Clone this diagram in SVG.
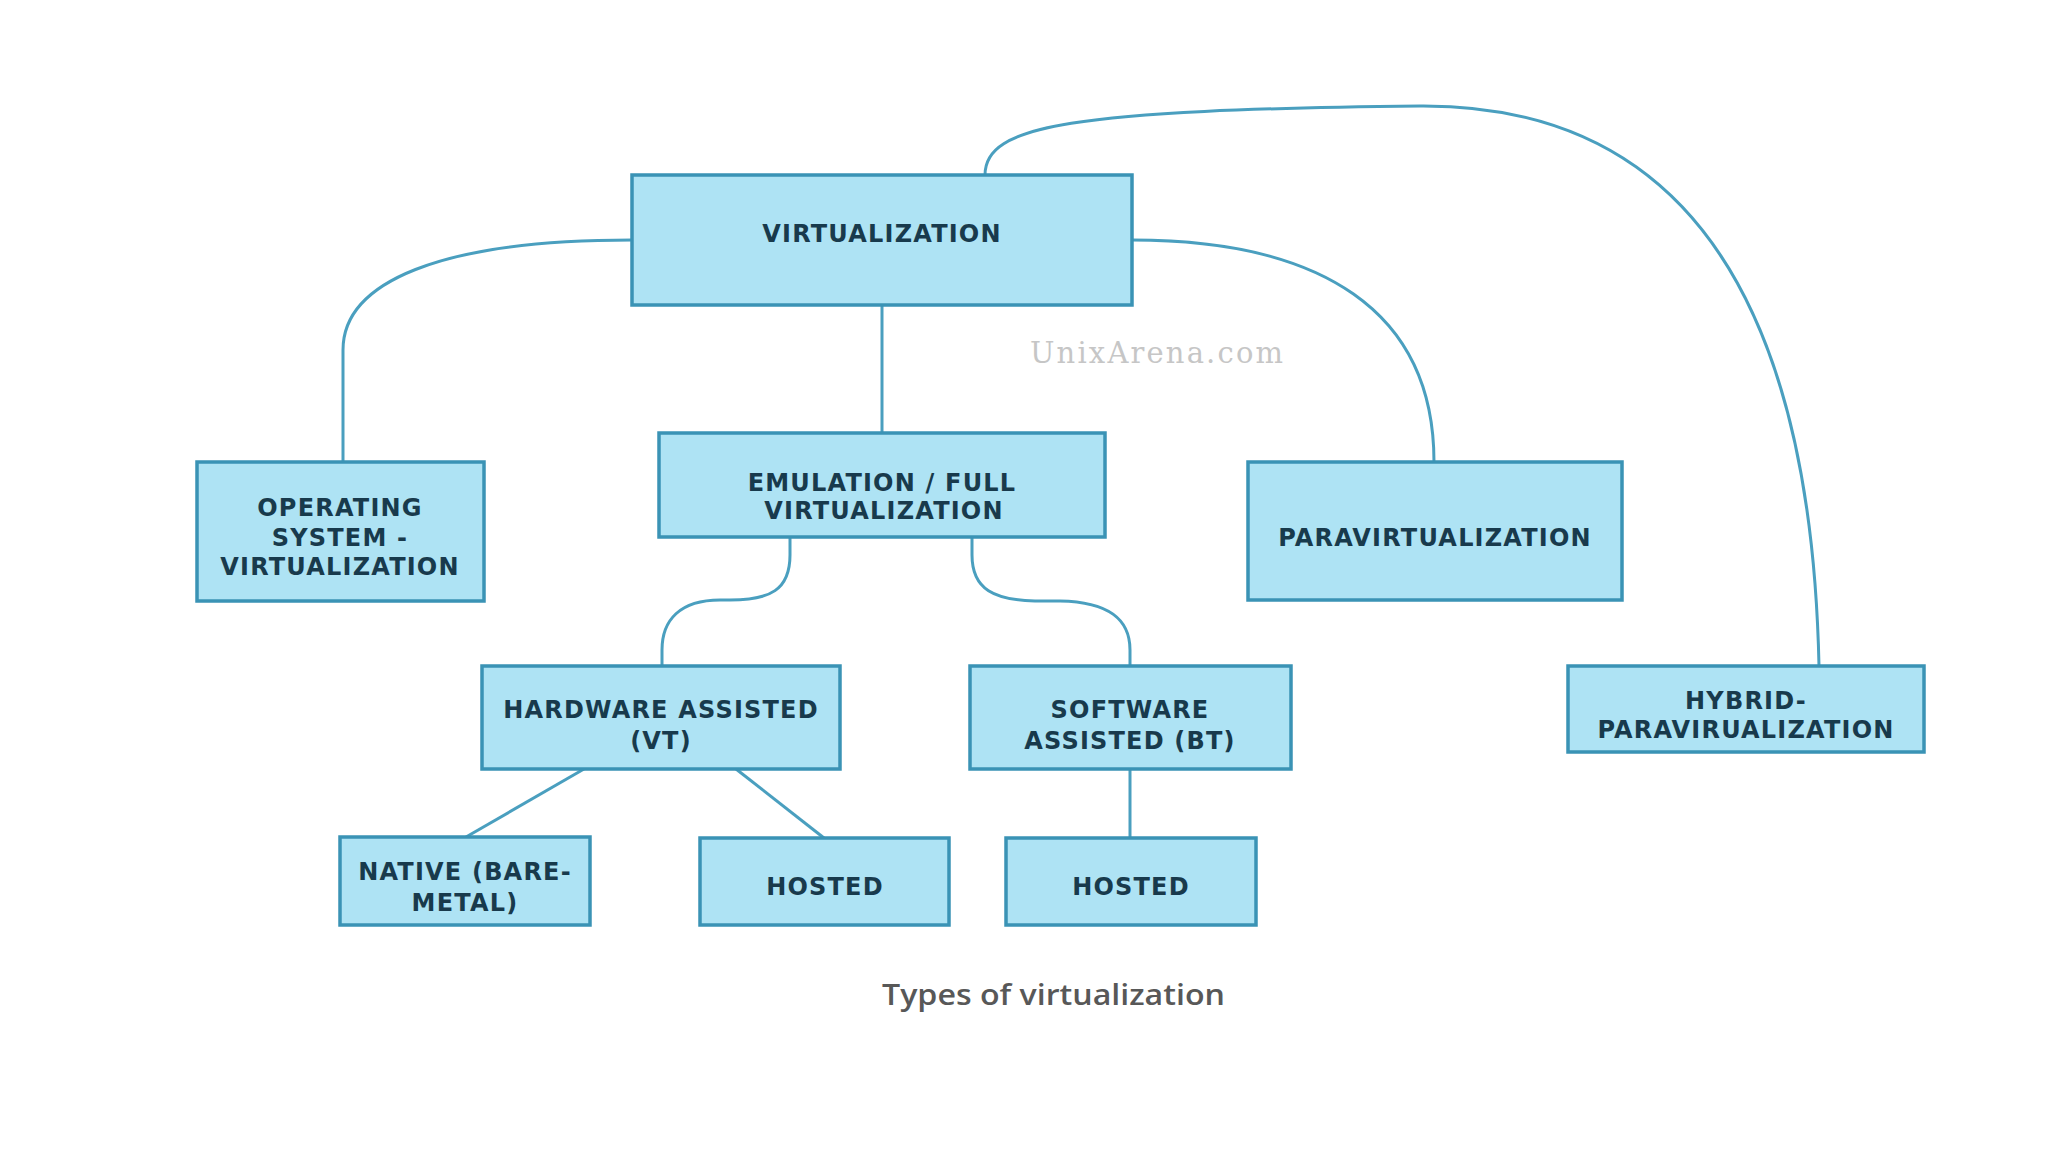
<svg xmlns="http://www.w3.org/2000/svg" width="2048" height="1152" viewBox="0 0 2048 1152">
<style>
.box{fill:#AEE3F4;stroke:#3A93B5;stroke-width:3.5}
.lbl{font-family:"DejaVu Sans","Verdana",sans-serif;font-weight:bold;font-size:24px;letter-spacing:1.2px;fill:#183A4C;text-anchor:middle}
.conn path,.conn line{fill:none;stroke:#4A9FBF;stroke-width:3}
.wm{font-family:"DejaVu Serif","Liberation Serif",serif;font-size:29px;fill:#C6C6C6}
.cap{font-family:"Open Sans","Noto Sans",sans-serif;font-weight:600;font-size:28px;fill:#585858}
</style>
<rect width="2048" height="1152" fill="#FFFFFF"/>
<g id="connectors" class="conn">
<path d="M 632 240 C 440 240, 343 282, 343 350 L 343 462"/>
<line x1="882" y1="305" x2="882" y2="433"/>
<path d="M 1132 240 C 1320 240, 1434 310, 1434 462"/>
<path d="M 985 175 C 985 125, 1070 110, 1420 106 C 1710 104, 1812 340, 1819 666"/>
<path d="M 790 537 L 790 555 C 790 590, 770 600, 730 600 L 720 600 C 680 600, 662 620, 662 650 L 662 666"/>
<path d="M 972 537 L 972 555 C 972 590, 995 600, 1035 601 L 1060 601 C 1110 602, 1130 620, 1130 650 L 1130 666"/>
<line x1="584" y1="769" x2="466" y2="837"/>
<line x1="736" y1="769" x2="824" y2="838"/>
<line x1="1130" y1="769" x2="1130" y2="838"/>
</g>
<g id="virtualization">
<rect class="box" x="632" y="175" width="500" height="130"/>
<text class="lbl" x="882" y="242">VIRTUALIZATION</text>
</g>
<g id="os-virtualization">
<rect class="box" x="197" y="462" width="287" height="139"/>
<text class="lbl" x="340" y="516">OPERATING</text>
<text class="lbl" x="340" y="546">SYSTEM -</text>
<text class="lbl" x="340" y="575">VIRTUALIZATION</text>
</g>
<g id="emulation">
<rect class="box" x="659" y="433" width="446" height="104"/>
<text class="lbl" x="882" y="491">EMULATION / FULL</text>
<text class="lbl" x="884" y="519">VIRTUALIZATION</text>
</g>
<g id="paravirtualization">
<rect class="box" x="1248" y="462" width="374" height="138"/>
<text class="lbl" x="1435" y="546">PARAVIRTUALIZATION</text>
</g>
<g id="hardware-assisted">
<rect class="box" x="482" y="666" width="358" height="103"/>
<text class="lbl" x="661" y="718">HARDWARE ASSISTED</text>
<text class="lbl" x="661" y="749">(VT)</text>
</g>
<g id="software-assisted">
<rect class="box" x="970" y="666" width="321" height="103"/>
<text class="lbl" x="1130" y="718">SOFTWARE</text>
<text class="lbl" x="1130" y="749">ASSISTED (BT)</text>
</g>
<g id="native">
<rect class="box" x="340" y="837" width="250" height="88"/>
<text class="lbl" x="465" y="880">NATIVE (BARE-</text>
<text class="lbl" x="465" y="911">METAL)</text>
</g>
<g id="hosted-hw">
<rect class="box" x="700" y="838" width="249" height="87"/>
<text class="lbl" x="825" y="895">HOSTED</text>
</g>
<g id="hosted-sw">
<rect class="box" x="1006" y="838" width="250" height="87"/>
<text class="lbl" x="1131" y="895">HOSTED</text>
</g>
<g id="hybrid">
<rect class="box" x="1568" y="666" width="356" height="86"/>
<text class="lbl" x="1746" y="709">HYBRID-</text>
<text class="lbl" x="1746" y="738">PARAVIRUALIZATION</text>
</g>
<text class="wm" x="1030" y="363" textLength="253" lengthAdjust="spacing">UnixArena.com</text>
<text class="cap" x="882" y="1005" textLength="343" lengthAdjust="spacingAndGlyphs">Types of virtualization</text>
</svg>
